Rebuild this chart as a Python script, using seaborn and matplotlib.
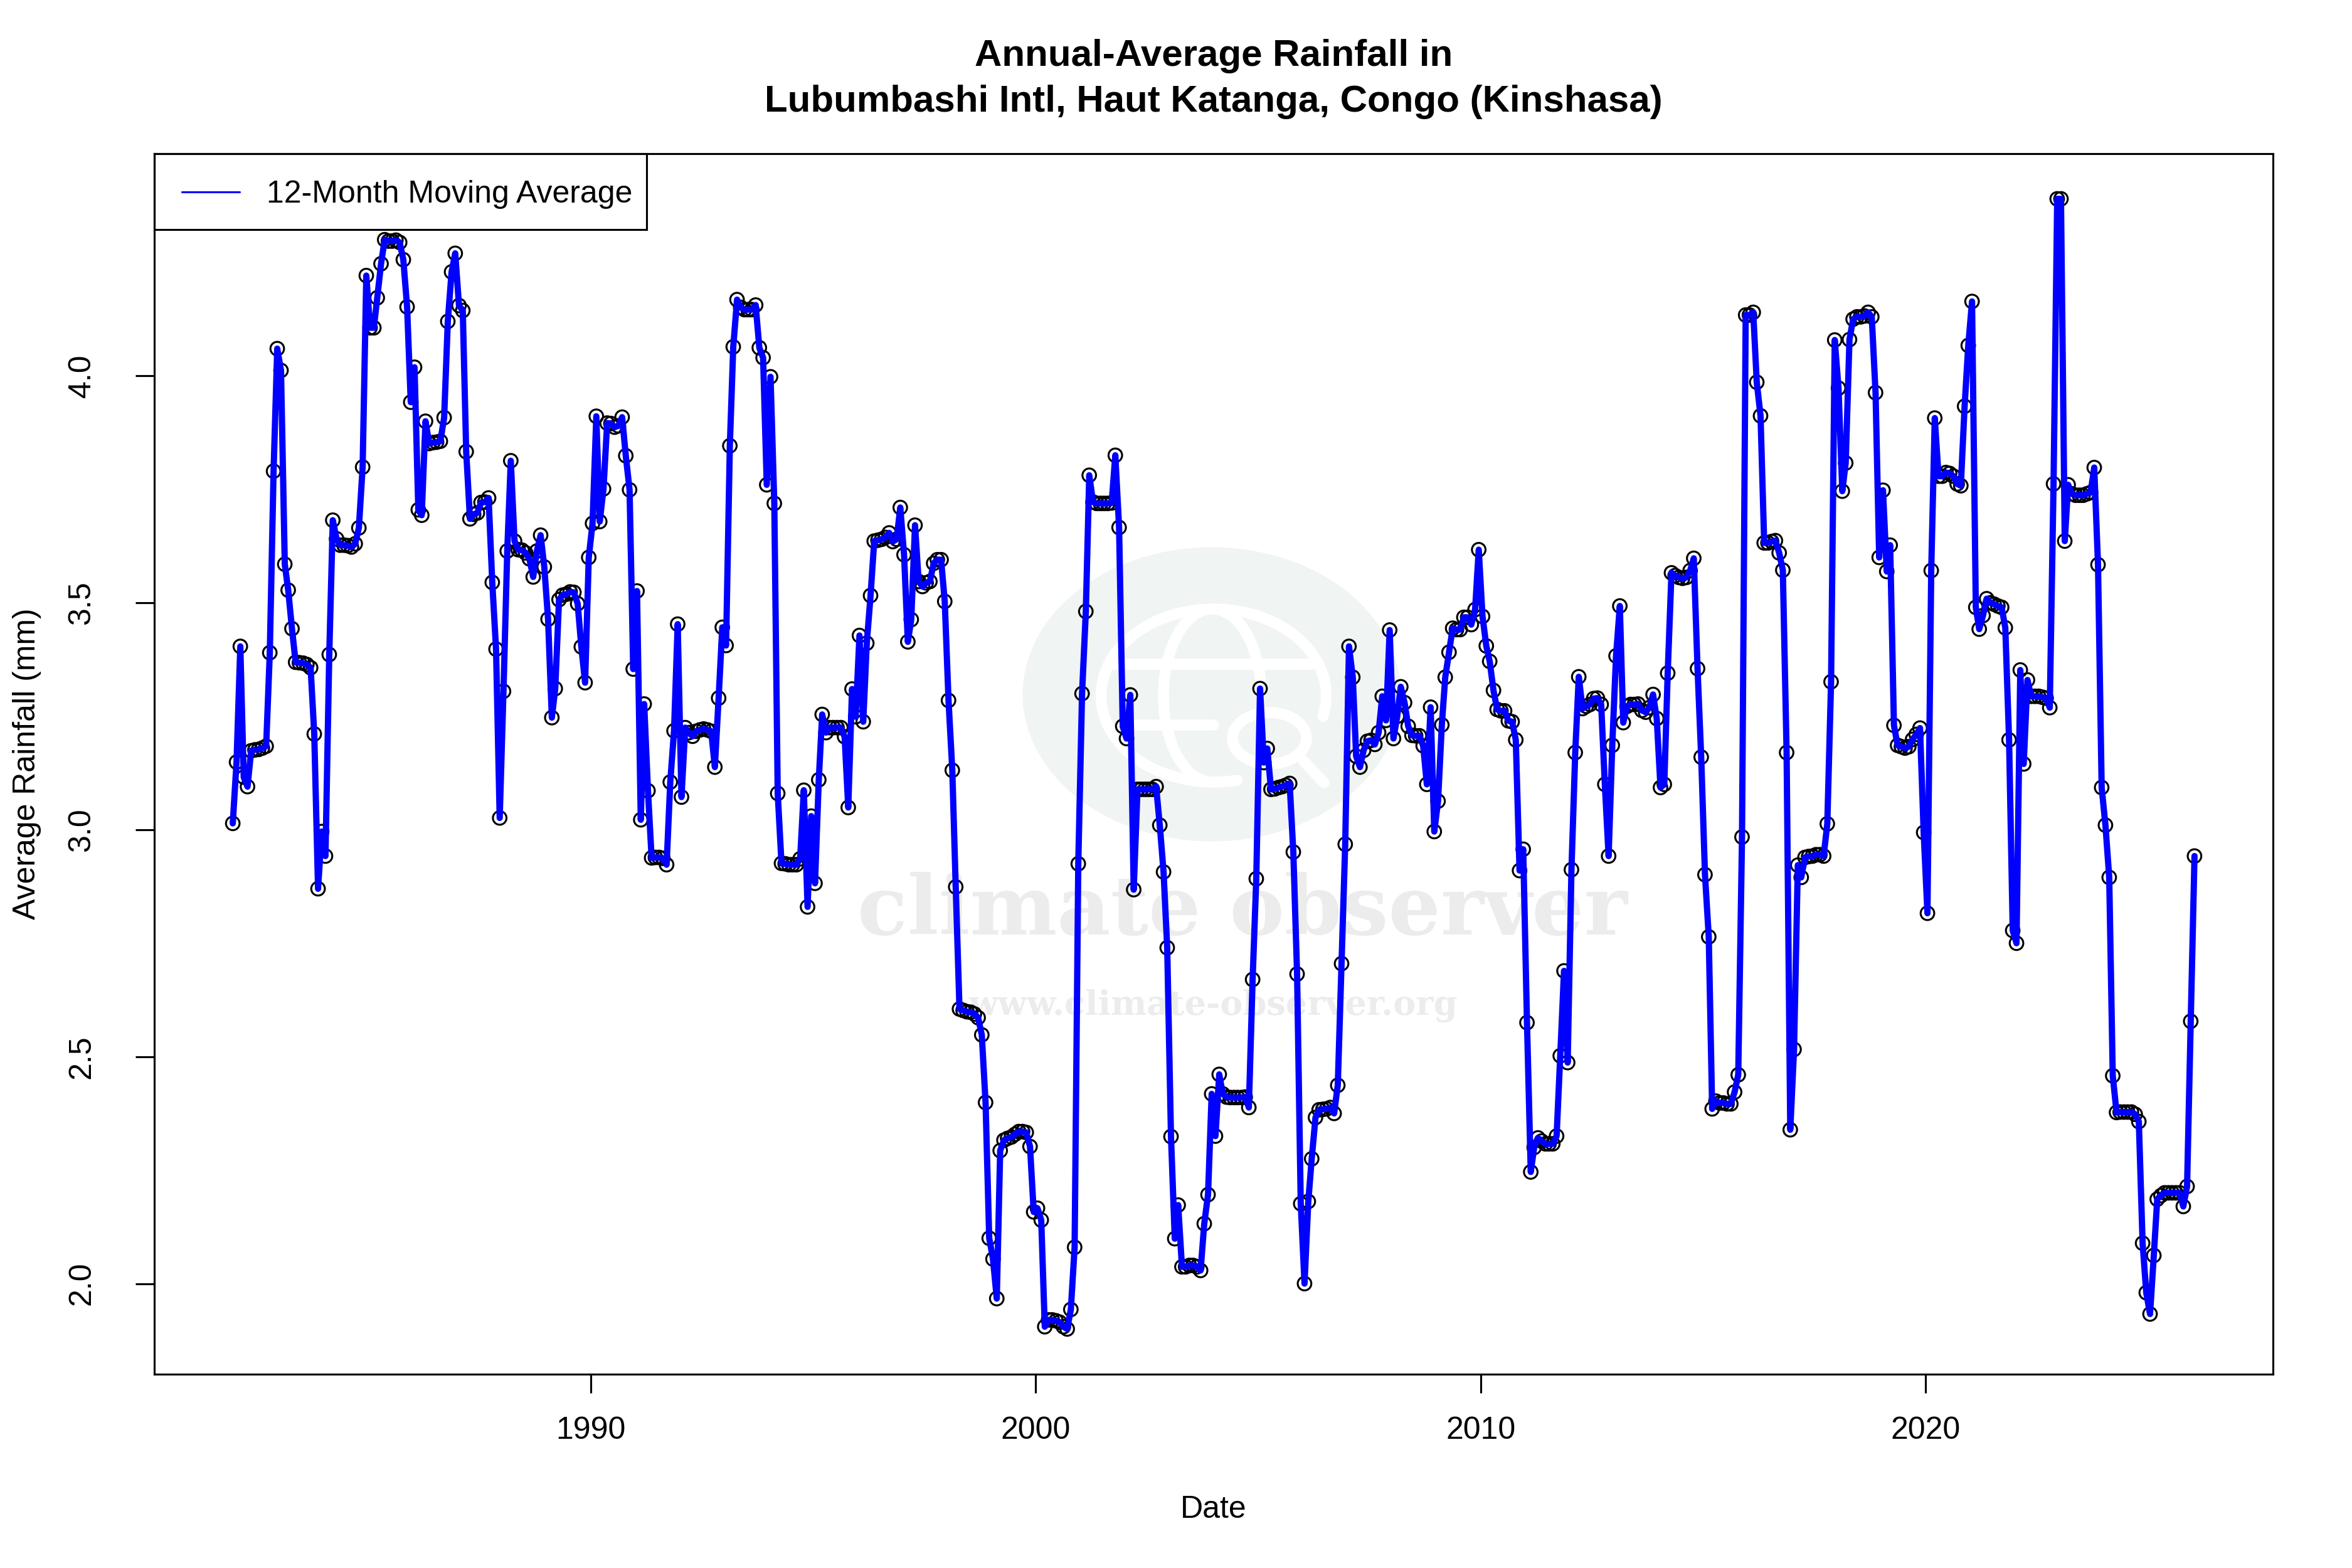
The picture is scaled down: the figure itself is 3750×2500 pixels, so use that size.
"""
Annual-average rainfall chart for Lubumbashi, styled after base R graphics.
"""
import matplotlib
matplotlib.use("Agg")
import matplotlib.dates as mdates
import matplotlib.pyplot as plt
import numpy as np
import pandas as pd
import seaborn as sns
from matplotlib.patches import Ellipse, Rectangle

title_lines = ["Annual-Average Rainfall in", "Lubumbashi Intl, Haut Katanga, Congo (Kinshasa)"]
series_label = "12-Month Moving Average"
x_label = "Date"
y_label = "Average Rainfall (mm)"
x_tick_years = [1990, 2000, 2010, 2020]
y_ticks = [2.0, 2.5, 3.0, 3.5, 4.0]
first_month = "1981-12-15"

rain_mm = [
    3.014, 3.149, 3.404, 3.116, 3.095, 3.174, 3.176, 3.177, 3.18, 3.184,
    3.39, 3.79, 4.06, 4.012, 3.585, 3.528, 3.443, 3.369, 3.368, 3.367,
    3.364, 3.357, 3.211, 2.87, 2.996, 2.942, 3.386, 3.682, 3.641, 3.627,
    3.627, 3.626, 3.623, 3.63, 3.665, 3.799, 4.221, 4.106, 4.106, 4.172,
    4.247, 4.30, 4.297, 4.297, 4.299, 4.294, 4.256, 4.152, 3.942, 4.019,
    3.705, 3.693, 3.90, 3.851, 3.853, 3.854, 3.856, 3.908, 4.12, 4.229,
    4.27, 4.155, 4.144, 3.833, 3.685, 3.695, 3.698, 3.721, 3.722, 3.731,
    3.545, 3.398, 3.026, 3.305, 3.614, 3.813, 3.636, 3.617, 3.616, 3.61,
    3.597, 3.557, 3.614, 3.649, 3.579, 3.464, 3.247, 3.311, 3.507, 3.517,
    3.519, 3.524, 3.523, 3.498, 3.403, 3.324, 3.60, 3.675, 3.911, 3.679,
    3.751, 3.896, 3.895, 3.887, 3.89, 3.909, 3.824, 3.749, 3.354, 3.526,
    3.022, 3.277, 3.086, 2.938, 2.939, 2.939, 2.937, 2.923, 3.105, 3.218,
    3.453, 3.072, 3.225, 3.214, 3.206, 3.217, 3.22, 3.222, 3.22, 3.217,
    3.138, 3.29, 3.446, 3.406, 3.846, 4.064, 4.168, 4.151, 4.146, 4.146,
    4.146, 4.156, 4.062, 4.04, 3.76, 3.998, 3.719, 3.08, 2.926, 2.925,
    2.923, 2.923, 2.923, 2.936, 3.087, 2.83, 3.03, 2.882, 3.11, 3.254,
    3.214, 3.225, 3.225, 3.225, 3.225, 3.205, 3.049, 3.31, 3.249, 3.428,
    3.238, 3.411, 3.516, 3.636, 3.638, 3.64, 3.644, 3.654, 3.635, 3.64,
    3.71, 3.606, 3.414, 3.463, 3.671, 3.547, 3.536, 3.544, 3.547, 3.587,
    3.595, 3.595, 3.503, 3.285, 3.131, 2.874, 2.605, 2.602, 2.599, 2.598,
    2.594, 2.586, 2.548, 2.399, 2.10, 2.054, 1.967, 2.293, 2.316, 2.32,
    2.323, 2.329, 2.335, 2.335, 2.333, 2.302, 2.158, 2.166, 2.14, 1.905,
    1.92, 1.92, 1.918, 1.915, 1.905, 1.90, 1.943, 2.08, 2.925, 3.30,
    3.481, 3.781, 3.722, 3.719, 3.719, 3.719, 3.719, 3.72, 3.825, 3.666,
    3.228, 3.201, 3.297, 2.868, 3.089, 3.089, 3.089, 3.089, 3.089, 3.095,
    3.01, 2.907, 2.74, 2.324, 2.099, 2.173, 2.037, 2.037, 2.04, 2.04,
    2.037, 2.029, 2.132, 2.196, 2.418, 2.325, 2.461, 2.418, 2.411, 2.41,
    2.41, 2.41, 2.41, 2.411, 2.388, 2.67, 2.892, 3.311, 3.148, 3.179,
    3.089, 3.09, 3.093, 3.095, 3.098, 3.102, 2.951, 2.682, 2.176, 2.0,
    2.181, 2.275, 2.366, 2.383, 2.384, 2.385, 2.388, 2.375, 2.437, 2.705,
    2.968, 3.404, 3.336, 3.162, 3.138, 3.175, 3.195, 3.197, 3.188, 3.214,
    3.294, 3.241, 3.44, 3.201, 3.25, 3.315, 3.28, 3.228, 3.208, 3.207,
    3.207, 3.185, 3.10, 3.27, 2.996, 3.063, 3.231, 3.336, 3.391, 3.444,
    3.441, 3.441, 3.468, 3.468, 3.452, 3.485, 3.617, 3.47, 3.405, 3.371,
    3.307, 3.265, 3.262, 3.262, 3.24, 3.238, 3.198, 2.91, 2.957, 2.575,
    2.246, 2.30, 2.321, 2.314, 2.308, 2.308, 2.308, 2.325, 2.502, 2.689,
    2.487, 2.912, 3.17, 3.337, 3.267, 3.272, 3.276, 3.289, 3.29, 3.276,
    3.10, 2.942, 3.186, 3.383, 3.493, 3.236, 3.272, 3.276, 3.276, 3.277,
    3.263, 3.259, 3.269, 3.298, 3.245, 3.093, 3.10, 3.345, 3.566, 3.56,
    3.556, 3.554, 3.556, 3.571, 3.598, 3.355, 3.16, 2.901, 2.764, 2.385,
    2.402, 2.398, 2.398, 2.396, 2.396, 2.422, 2.46, 2.984, 4.134, 4.134,
    4.14, 3.986, 3.912, 3.632, 3.632, 3.635, 3.637, 3.61, 3.572, 3.17,
    2.339, 2.516, 2.922, 2.895, 2.939, 2.941, 2.942, 2.945, 2.945, 2.942,
    3.013, 3.326, 4.079, 3.973, 3.746, 3.808, 4.08, 4.125, 4.13, 4.13,
    4.132, 4.14, 4.13, 3.963, 3.6, 3.748, 3.569, 3.627, 3.23, 3.186,
    3.183, 3.18, 3.183, 3.199, 3.21, 3.224, 2.994, 2.816, 3.571, 3.907,
    3.779, 3.779, 3.787, 3.785, 3.779, 3.762, 3.758, 3.933, 4.067, 4.164,
    3.49, 3.442, 3.472, 3.509, 3.5, 3.497, 3.493, 3.49, 3.445, 3.198,
    2.778, 2.75, 3.352, 3.145, 3.33, 3.294, 3.294, 3.294, 3.292, 3.29,
    3.269, 3.762, 4.39, 4.39, 3.636, 3.76, 3.74, 3.737, 3.737, 3.737,
    3.74, 3.743, 3.798, 3.584, 3.093, 3.01, 2.895, 2.458, 2.377, 2.378,
    2.378, 2.378, 2.378, 2.373, 2.357, 2.089, 1.98, 1.933, 2.062, 2.186,
    2.194, 2.2, 2.2, 2.2, 2.2, 2.2, 2.17, 2.214, 2.578, 2.942,
]

W, H = 3750, 2500
GREEN = "#f0f4f2"
GREY = "#ececec"

sns.set_theme(style="white")
plt.rcParams["font.family"] = ["Liberation Sans", "DejaVu Sans"]
plt.rcParams["axes.linewidth"] = 0.75
plt.rcParams["axes.edgecolor"] = "black"
plt.rcParams["text.color"] = "black"
plt.rcParams["axes.labelcolor"] = "black"
plt.rcParams["axes.titlecolor"] = "black"
plt.rcParams["xtick.color"] = "black"
plt.rcParams["ytick.color"] = "black"


def fig_xy(x, y):
    """Pixel position in the picture (origin top left) to figure fraction."""
    return x / W, 1 - y / H


def add_curve(fig, xs, ys, lw=4.2):
    fx, fy = fig_xy(np.asarray(xs), np.asarray(ys))
    fig.add_artist(plt.Line2D(fx, fy, transform=fig.transFigure, color="white", linewidth=lw,
                              solid_capstyle="round", zorder=-2))


def add_arc(fig, cx, cy, w, h, start, stop):
    # angles in degrees, clockwise on screen from the right
    t = np.radians(np.arange(start, stop + 1, 2))
    add_curve(fig, cx + w / 2 * np.cos(t), cy + h / 2 * np.sin(t))


def draw_watermark(fig):
    fig.add_artist(Ellipse(fig_xy(1932, 1107), 603 / W, 469 / H, transform=fig.transFigure,
                           facecolor=GREEN, edgecolor="none", zorder=-2))
    add_arc(fig, 1935, 1109, 359, 276, 78, 375)
    add_arc(fig, 1933, 1109, 156, 276, 90, 350)
    add_curve(fig, [1774, 2098], [1059, 1059])
    add_curve(fig, [1810, 1935], [1156, 1156])
    fig.add_artist(Ellipse(fig_xy(2024, 1177), 118 / W, 82 / H, transform=fig.transFigure,
                           facecolor=GREEN, edgecolor="white", linewidth=4.2, zorder=-2))
    add_curve(fig, [2078, 2111], [1213, 1248])
    fig.text(1981 / W, 1 - 1453 / H, "climate observer", family="DejaVu Serif", weight="bold",
             fontsize=31.5, color=GREY, ha="center", va="center", zorder=-2)
    fig.text(1934 / W, 1 - 1603 / H, "www.climate-observer.org", family="DejaVu Serif", weight="bold",
             fontsize=13, color=GREY, ha="center", va="center", zorder=-2)


df = pd.DataFrame({
    "date": pd.date_range(first_month, periods=len(rain_mm), freq=pd.DateOffset(months=1)),
    "rain": rain_mm,
})

fig = plt.figure(figsize=(W / 300, H / 300), dpi=300, facecolor="white")
ax = fig.add_axes([246 / W, 1 - 2191 / H, (3624 - 246) / W, (2191 - 245) / H])
ax.patch.set_alpha(0)
draw_watermark(fig)

sns.scatterplot(data=df, x="date", y="rain", ax=ax, s=27, marker="o", facecolors="none",
                edgecolor="black", linewidth=0.75, legend=False)
sns.lineplot(data=df, x="date", y="rain", ax=ax, color="blue", linewidth=2.4, errorbar=None,
             solid_joinstyle="round", solid_capstyle="round", label=series_label)
ax.margins(0.04)

ax.set_xticks([mdates.date2num(pd.Timestamp(year=y, month=1, day=1)) for y in x_tick_years])
ax.set_xticklabels([str(y) for y in x_tick_years], fontsize=12)
ax.set_yticks(y_ticks)
ax.set_yticklabels([f"{v:.1f}" for v in y_ticks], fontsize=12, rotation=90, va="center")
ax.tick_params(axis="x", bottom=True, length=7.2, width=0.75, color="black", pad=9)
ax.tick_params(axis="y", left=True, length=7.2, width=0.75, color="black", pad=15)
ax.set_xlabel(x_label, fontsize=12, labelpad=19)
ax.set_ylabel(y_label, fontsize=12, labelpad=10)
ax.set_title("\n".join(title_lines), fontsize=14.4, fontweight="bold", pad=16, linespacing=1.42)

# legend box sits flush in the top left corner, with more room left of the key than right of the text
legend = ax.legend(loc="center left", bbox_to_anchor=fig_xy(290, 310), bbox_transform=fig.transFigure,
                   borderaxespad=0, borderpad=0, frameon=False, fontsize=12,
                   handlelength=1.84, handletextpad=0.86)
legend.get_lines()[0].set_linewidth(0.75)
fig.add_artist(Rectangle(fig_xy(246, 366), (1031 - 246) / W, (366 - 245) / H, transform=fig.transFigure,
                         facecolor="none", edgecolor="black", linewidth=0.75, zorder=5))

plt.savefig("out.png", dpi=300)
plt.close()
